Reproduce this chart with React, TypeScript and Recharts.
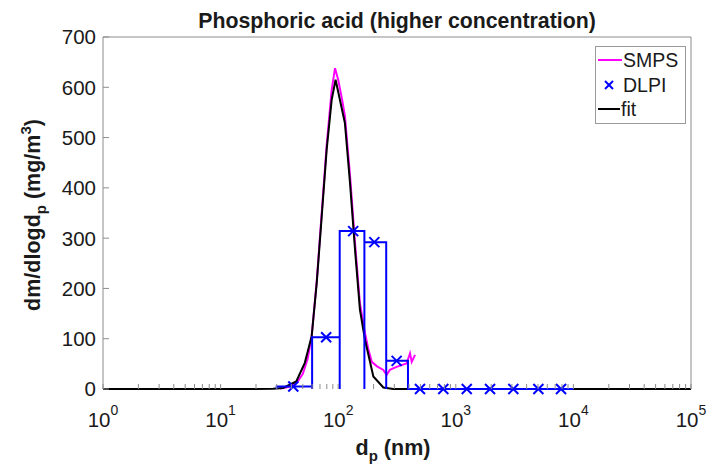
import React from 'react';
import { ComposedChart, Line, Scatter, XAxis, YAxis, Legend } from 'recharts';

const FONT = '"Liberation Sans", Arial, Helvetica, sans-serif';
const TEXT = '#1a1a1a';
const AXIS = '#8c8c8c';
const MAGENTA = '#ff00ff';
const BLUE = '#0000ff';

// plot box (px) - used only for text placement
const PLOT_LEFT = 103;
const PLOT_RIGHT = 691;
const PLOT_TOP = 37;
const PLOT_BOTTOM = 389;

// SMPS measurement (dp in nm, dm/dlogdp in mg/m3)
const smpsDp = [32, 36, 40, 45, 50, 55, 59.5, 65.7, 72.4, 79.8, 88, 94, 100, 108, 114, 126, 139, 153, 169, 180, 193, 214, 242, 258, 275, 314, 350, 382, 408, 422, 450];
const smpsVal = [1, 3, 6, 14, 30, 60, 105, 215, 350, 485, 595, 638, 615, 575, 543, 425, 290, 170, 111, 80, 54, 45, 38, 28, 38, 44, 48, 51, 71, 54, 68];

// lognormal fit
const fitDp = [1, 18, 28, 34, 44, 52, 59.5, 65.7, 72.4, 79.8, 88, 95, 114, 126, 139, 153, 169, 199, 242, 294, 100000];
const fitVal = [0, 0, 0.5, 2, 15, 52, 105, 211, 343, 476, 575, 615, 529, 410, 277, 158, 98, 25, 3, 0, 0];

// DLPI impactor stages
const dlpiEdges = [30, 60, 103, 167, 256, 392, 640, 1000, 1580, 2500, 4000, 6300, 10000];
const dlpiDp = [41.5, 79, 134, 203, 314, 496, 783, 1239, 1955, 3085, 5036, 7850];
const dlpiVal = [5, 103, 314, 292, 56, 0, 0, 0, 0, 0, 0, 0];

const xDecades = [1, 10, 100, 1000, 10000, 100000];
const xMinorSteps = [2, 3, 4, 5, 6, 7, 8, 9];
const yTicks = [0, 100, 200, 300, 400, 500, 600, 700];

const xTicks: number[] = [];
xDecades.forEach((d, i) => {
  xTicks.push(d);
  if (i < xDecades.length - 1) xMinorSteps.forEach((m) => xTicks.push(d * m));
});

const smpsData = smpsDp.map((x, i) => ({ x, y: smpsVal[i] }));
const fitData = fitDp.map((x, i) => ({ x, y: fitVal[i] }));
const dlpiData = dlpiDp.map((x, i) => ({ x, y: dlpiVal[i] }));

// outline of the DLPI bars: vertical edges down to zero, no bottom edge
const dlpiBars: { x: number; y: number }[] = [];
dlpiVal.forEach((v, i) => {
  dlpiBars.push({ x: dlpiEdges[i], y: 0 });
  dlpiBars.push({ x: dlpiEdges[i], y: v });
  dlpiBars.push({ x: dlpiEdges[i + 1], y: v });
  dlpiBars.push({ x: dlpiEdges[i + 1], y: 0 });
});

const isDecade = (v: number) => xDecades.includes(v);

const BottomTick = (props: any) => {
  const { x, y, payload } = props;
  const major = isDecade(payload.value);
  const exp = Math.round(Math.log10(payload.value));
  return (
    <g>
      <line x1={x} x2={x} y1={y} y2={y - 5} stroke={AXIS} />
      {major && (
        <text x={x} y={y + 38} textAnchor="middle" fontSize={20.5} fontFamily={FONT} fill={TEXT}>
          10
          <tspan dy={-12} fontSize={14}>
            {exp}
          </tspan>
        </text>
      )}
    </g>
  );
};

const TopTick = (props: any) => {
  const { x, y } = props;
  return <line x1={x} x2={x} y1={y} y2={y + 5} stroke={AXIS} />;
};

const LeftTick = (props: any) => {
  const { x, y, payload } = props;
  return (
    <g>
      <line x1={x} x2={x + 6} y1={y} y2={y} stroke={AXIS} />
      <text x={x - 7} y={y} dy="0.36em" textAnchor="end" fontSize={20.5} fontFamily={FONT} fill={TEXT}>
        {payload.value}
      </text>
    </g>
  );
};

const RightTick = (props: any) => {
  const { x, y } = props;
  return <line x1={x} x2={x - 6} y1={y} y2={y} stroke={AXIS} />;
};

const TitleLabel = () => (
  <text
    x={(PLOT_LEFT + PLOT_RIGHT) / 2}
    y={28}
    textAnchor="middle"
    fontSize={21.3}
    fontWeight="bold"
    fontFamily={FONT}
    fill={TEXT}
  >
    Phosphoric acid (higher concentration)
  </text>
);

const XLabel = () => (
  <text
    x={393}
    y={PLOT_BOTTOM + 66}
    textAnchor="middle"
    fontSize={21.5}
    fontWeight="bold"
    fontFamily={FONT}
    fill={TEXT}
  >
    d
    <tspan dy={6} fontSize={15}>
      p
    </tspan>
    <tspan dy={-6}> (nm)</tspan>
  </text>
);

const YLabel = () => {
  const cx = 40;
  const cy = 215;
  return (
    <text
      x={cx}
      y={cy}
      transform={`rotate(-90 ${cx} ${cy})`}
      textAnchor="middle"
      fontSize={21.5}
      fontWeight="bold"
      fontFamily={FONT}
      fill={TEXT}
    >
      dm/dlogd
      <tspan dy={6} fontSize={15}>
        p
      </tspan>
      <tspan dy={-6}> (mg/m</tspan>
      <tspan dy={-9} fontSize={15}>
        3
      </tspan>
      <tspan dy={9}>)</tspan>
    </text>
  );
};

const renderLegend = () => (
  <svg width={91} height={78} style={{ display: 'block' }}>
    <rect x={0.5} y={0.5} width={90} height={77} fill="#fff" stroke="#9a9a9a" />
    <line x1={3} x2={27} y1={14} y2={14} stroke={MAGENTA} strokeWidth={2} />
    <text x={28} y={21} fontSize={19.5} fontFamily={FONT} fill={TEXT}>
      SMPS
    </text>
    <line x1={10} x2={18} y1={35} y2={43} stroke={BLUE} strokeWidth={2} />
    <line x1={10} x2={18} y1={43} y2={35} stroke={BLUE} strokeWidth={2} />
    <text x={28} y={46} fontSize={19.5} fontFamily={FONT} fill={TEXT}>
      DLPI
    </text>
    <line x1={3} x2={25} y1={63} y2={63} stroke="#000" strokeWidth={2} />
    <text x={26} y={70} fontSize={19.5} fontFamily={FONT} fill={TEXT}>
      fit
    </text>
  </svg>
);

const XMark = (props: any) => {
  const { cx, cy } = props;
  const s = 5;
  return (
    <g>
      <line x1={cx - s} x2={cx + s} y1={cy - s} y2={cy + s} stroke={BLUE} strokeWidth={2} />
      <line x1={cx - s} x2={cx + s} y1={cy + s} y2={cy - s} stroke={BLUE} strokeWidth={2} />
    </g>
  );
};

export default function App() {
  return (
    <div style={{ position: 'absolute', left: 0, top: 0, width: 709, height: 469, background: '#fff' }}>
      <ComposedChart
        width={709}
        height={469}
        margin={{ top: PLOT_TOP - 1, right: 709 - PLOT_RIGHT - 1, bottom: 469 - PLOT_BOTTOM - 1, left: PLOT_LEFT - 1 }}
      >
        <XAxis
          dataKey="x"
          type="number"
          scale="log"
          domain={[1, 100000]}
          ticks={xTicks}
          interval={0}
          height={1}
          tickSize={0}
          tickMargin={0}
          tickLine={false}
          tick={BottomTick}
          axisLine={false}
          label={{ content: XLabel }}
        />
        <XAxis
          xAxisId="top"
          orientation="top"
          dataKey="x"
          type="number"
          scale="log"
          domain={[1, 100000]}
          ticks={xTicks}
          interval={0}
          height={1}
          tickSize={0}
          tickMargin={0}
          tickLine={false}
          tick={TopTick}
          axisLine={{ stroke: AXIS }}
          label={{ content: TitleLabel }}
        />
        <YAxis
          type="number"
          domain={[0, 700]}
          ticks={yTicks}
          interval={0}
          width={1}
          tickSize={0}
          tickMargin={0}
          tickLine={false}
          tick={LeftTick}
          axisLine={{ stroke: AXIS }}
          label={{ content: YLabel }}
        />
        <YAxis
          yAxisId="right"
          orientation="right"
          type="number"
          domain={[0, 700]}
          ticks={yTicks}
          interval={0}
          width={1}
          tickSize={0}
          tickMargin={0}
          tickLine={false}
          tick={RightTick}
          axisLine={{ stroke: AXIS }}
        />
        <Legend
          layout="horizontal"
          verticalAlign="middle"
          align="center"
          content={renderLegend}
          wrapperStyle={{ left: 595, top: 46, width: 91, height: 78 }}
        />
        <Line
          data={smpsData}
          dataKey="y"
          name="SMPS"
          type="linear"
          stroke={MAGENTA}
          strokeWidth={2}
          dot={false}
          activeDot={false}
          isAnimationActive={false}
        />
        <Line
          data={fitData}
          dataKey="y"
          name="fit"
          type="linear"
          stroke="#000"
          strokeWidth={2}
          dot={false}
          activeDot={false}
          isAnimationActive={false}
        />
        <Line
          data={dlpiBars}
          dataKey="y"
          name="DLPI bins"
          type="linear"
          stroke={BLUE}
          strokeWidth={2}
          dot={false}
          activeDot={false}
          isAnimationActive={false}
        />
        <Scatter data={dlpiData} dataKey="y" name="DLPI" shape={XMark} isAnimationActive={false} />
      </ComposedChart>
    </div>
  );
}
